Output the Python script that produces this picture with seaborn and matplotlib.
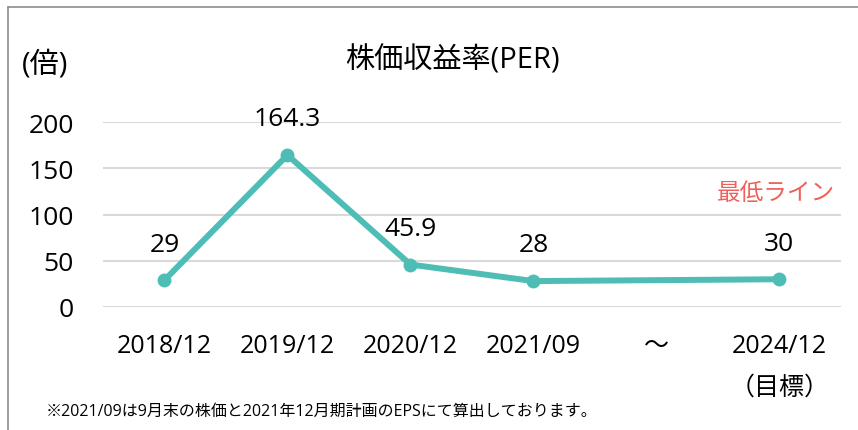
import pandas as pd
import seaborn as sns
import matplotlib.pyplot as plt
from matplotlib.lines import Line2D

sns.set_style("white")
plt.rcParams["font.family"] = ["Open Sans", "Noto Sans CJK JP", "DejaVu Sans"]
plt.rcParams["text.color"] = "black"
plt.rcParams["xtick.color"] = "black"
plt.rcParams["ytick.color"] = "black"

categories = ["2018/12", "2019/12", "2020/12", "2021/09", "～", "2024/12\n（目標）"]
point_pos = [0, 1, 2, 3, 5]
per_values = [29, 164.3, 45.9, 28, 30]
value_labels = ["29", "164.3", "45.9", "28", "30"]

TEAL = "#4dbdb5"
RED = "#f0605a"

df = pd.DataFrame({"x": point_pos, "per": per_values})

fig = plt.figure(figsize=(8.58, 4.31), dpi=100)
ax = fig.add_axes([0.120, 0.2854, 0.860, 0.4292])

sns.lineplot(data=df, x="x", y="per", ax=ax, color=TEAL, linewidth=4.3,
             marker="o", markersize=10, markeredgewidth=0, clip_on=False)

for x, y, s in zip(point_pos, per_values, value_labels):
    ax.annotate(s, (x, y), xytext=(0, 26), textcoords="offset points",
                ha="center", va="center", fontsize=19)

ax.set_xlim(-0.5, 5.5)
ax.set_ylim(0, 200)
ax.set_yticks([0, 50, 100, 150, 200])
ax.set_xticks(range(len(categories)))
ax.set_xticklabels(categories, fontsize=18, linespacing=1.85)
ax.tick_params(axis="y", labelsize=19, length=0, pad=21)
ax.tick_params(axis="x", length=0, pad=19)
ax.grid(axis="y", color="#d9d9d9", linewidth=1.5)
ax.set_axisbelow(True)
for sp in ax.spines.values():
    sp.set_visible(False)
ax.set_xlabel("")
ax.set_ylabel("")

fig.text(0.527, 0.86, "株価収益率(PER)", ha="center", va="center", fontsize=21)
fig.text(0.052, 0.85, "(倍)", ha="center", va="center", fontsize=21)
fig.text(0.973, 0.55, "最低ライン", ha="right", va="center", fontsize=17, color=RED)
fig.text(0.053, 0.045, "※2021/09は9月末の株価と2021年12月期計画のEPSにて算出しております。",
         ha="left", va="center", fontsize=11.5)

fig.add_artist(Line2D([0.0093, 1.0], [0.981, 0.981], color="#8c8c8c", linewidth=1.2))
fig.add_artist(Line2D([0.0093, 0.0093], [0.0, 0.981], color="#8c8c8c", linewidth=1.2))

fig.savefig("out.png", dpi=100)
